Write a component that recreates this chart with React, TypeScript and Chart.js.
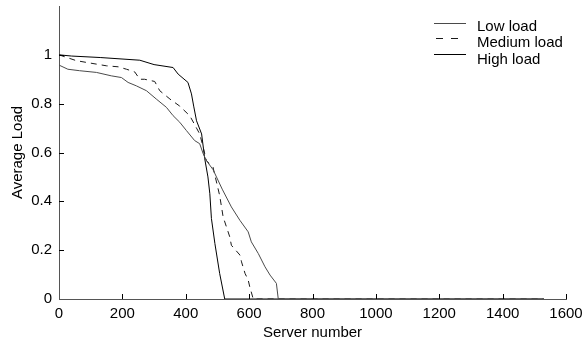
import React, { useEffect, useRef } from "react";
import { Chart, registerables } from "chart.js";

Chart.register(...registerables);

const seriesNames = ["Low load", "Medium load", "High load"];

const lowX = [0, 28, 65, 118, 165, 197, 218, 244, 276, 307, 339, 360, 381, 402, 428, 444, 455, 465, 486, 515, 544, 571, 597, 607, 629, 650, 666, 686, 692, 1530];
const lowY = [0.958, 0.941, 0.935, 0.928, 0.914, 0.907, 0.887, 0.873, 0.853, 0.819, 0.785, 0.751, 0.724, 0.69, 0.649, 0.636, 0.595, 0.567, 0.53, 0.45, 0.377, 0.322, 0.275, 0.234, 0.186, 0.132, 0.098, 0.064, 0, 0];

const medX = [0, 55, 118, 150, 187, 213, 239, 255, 270, 302, 318, 350, 381, 413, 434, 444, 455, 465, 486, 507, 518, 539, 544, 571, 576, 587, 597, 602, 613, 1530];
const medY = [1.0, 0.976, 0.962, 0.955, 0.951, 0.941, 0.93, 0.9, 0.9, 0.891, 0.853, 0.819, 0.79, 0.75, 0.7, 0.676, 0.622, 0.567, 0.54, 0.424, 0.336, 0.254, 0.22, 0.18, 0.152, 0.105, 0.078, 0.05, 0, 0];

const highX = [0, 40, 130, 255, 300, 360, 376, 407, 418, 425, 434, 450, 460, 470, 476, 481, 492, 507, 523, 1530];
const highY = [1.0, 0.995, 0.989, 0.978, 0.96, 0.948, 0.921, 0.887, 0.84, 0.79, 0.73, 0.676, 0.574, 0.5, 0.431, 0.33, 0.227, 0.105, 0, 0];

const xTicks = [0, 200, 400, 600, 800, 1000, 1200, 1400, 1600];
const yTicks = [0, 0.2, 0.4, 0.6, 0.8, 1];

const FONT = "'Liberation Sans', Arial, Helvetica, sans-serif";

const toPoints = (xs: number[], ys: number[]) => xs.map((x, i) => ({ x, y: ys[i] }));

const seriesStyles = [
  { color: "#4a4a4a", dash: [] as number[] },
  { color: "#1a1a1a", dash: [6, 5] },
  { color: "#000000", dash: [] as number[] },
];

const innerTicks = {
  id: "innerTicks",
  afterDraw(chart: any) {
    const { ctx, scales, chartArea } = chart;
    ctx.save();
    ctx.strokeStyle = "#000";
    ctx.lineWidth = 1;
    ctx.beginPath();
    xTicks.forEach((v) => {
      if (v === 0) return;
      const px = Math.round(scales.x.getPixelForValue(v)) + 0.5;
      ctx.moveTo(px, chartArea.bottom);
      ctx.lineTo(px, chartArea.bottom - 5);
    });
    yTicks.forEach((v) => {
      if (v === 0) return;
      const py = Math.round(scales.y.getPixelForValue(v)) + 0.5;
      ctx.moveTo(chartArea.left, py);
      ctx.lineTo(chartArea.left + 5, py);
    });
    ctx.stroke();

    // legend
    const baselines = [31, 46.5, 63.5];
    const lineYs = [23, 38, 54];
    ctx.font = `15px ${FONT}`;
    ctx.fillStyle = "#000";
    ctx.textBaseline = "alphabetic";
    ctx.textAlign = "left";
    seriesNames.forEach((name, i) => {
      const st = seriesStyles[i];
      ctx.beginPath();
      ctx.strokeStyle = st.color;
      ctx.setLineDash(st.dash.length ? [7, 8] : []);
      ctx.moveTo(i === 1 ? 436 : 434, lineYs[i] + 0.5);
      ctx.lineTo(466, lineYs[i] + 0.5);
      ctx.stroke();
      ctx.setLineDash([]);
      ctx.fillText(name, 477, baselines[i]);
    });
    ctx.restore();
  },
};

export default function App() {
  const ref = useRef<HTMLCanvasElement | null>(null);

  useEffect(() => {
    if (!ref.current) return;
    const datas = [toPoints(lowX, lowY), toPoints(medX, medY), toPoints(highX, highY)];
    const chart = new Chart(ref.current, {
      type: "line",
      data: {
        datasets: datas.map((d, i) => ({
          label: seriesNames[i],
          data: d,
          borderColor: seriesStyles[i].color,
          borderDash: seriesStyles[i].dash,
          borderWidth: 1,
          pointRadius: 0,
          tension: 0,
          fill: false,
        })),
      },
      options: {
        responsive: false,
        animation: false,
        devicePixelRatio: 1,
        layout: { padding: { top: 6, right: 19, left: 0, bottom: 0 } },
        plugins: { legend: { display: false }, tooltip: { enabled: false } },
        scales: {
          x: {
            type: "linear",
            min: 0,
            max: 1600,
            afterBuildTicks: (s: any) => {
              s.ticks = xTicks.map((v) => ({ value: v }));
            },
            afterFit: (s: any) => {
              s.height = 44;
              s.paddingLeft = 0;
              s.paddingRight = 0;
              s.paddingTop = 0;
              s.paddingBottom = 0;
            },
            grid: { display: false, drawTicks: false },
            border: { display: true, color: "#555", width: 1 },
            ticks: {
              color: "#000",
              font: { family: FONT, size: 15 },
              padding: 6,
              maxRotation: 0,
              autoSkip: false,
              callback: (v: any) => String(v),
            },
            title: {
              display: true,
              text: "Server number",
              color: "#000",
              font: { family: FONT, size: 15 },
              padding: { top: 0, bottom: 1 },
            },
          },
          y: {
            type: "linear",
            min: 0,
            max: 1.2,
            afterBuildTicks: (s: any) => {
              s.ticks = yTicks.map((v) => ({ value: v }));
            },
            afterFit: (s: any) => {
              s.width = 59;
              s.paddingLeft = 0;
              s.paddingRight = 0;
              s.paddingTop = 0;
              s.paddingBottom = 0;
            },
            grid: { display: false, drawTicks: false },
            border: { display: true, color: "#555", width: 1 },
            ticks: {
              color: "#000",
              font: { family: FONT, size: 15 },
              padding: 7,
              callback: (v: any) => String(Math.round(Number(v) * 10) / 10),
            },
            title: {
              display: true,
              text: "Average Load",
              color: "#000",
              font: { family: FONT, size: 15 },
              padding: { top: 9, bottom: 0 },
            },
          },
        },
      },
      plugins: [innerTicks],
    });
    return () => chart.destroy();
  }, []);

  return (
    <div style={{ position: "absolute", left: 0, top: 0, width: 585, height: 343, background: "#fff" }}>
      <canvas ref={ref} width={585} height={343} />
    </div>
  );
}
